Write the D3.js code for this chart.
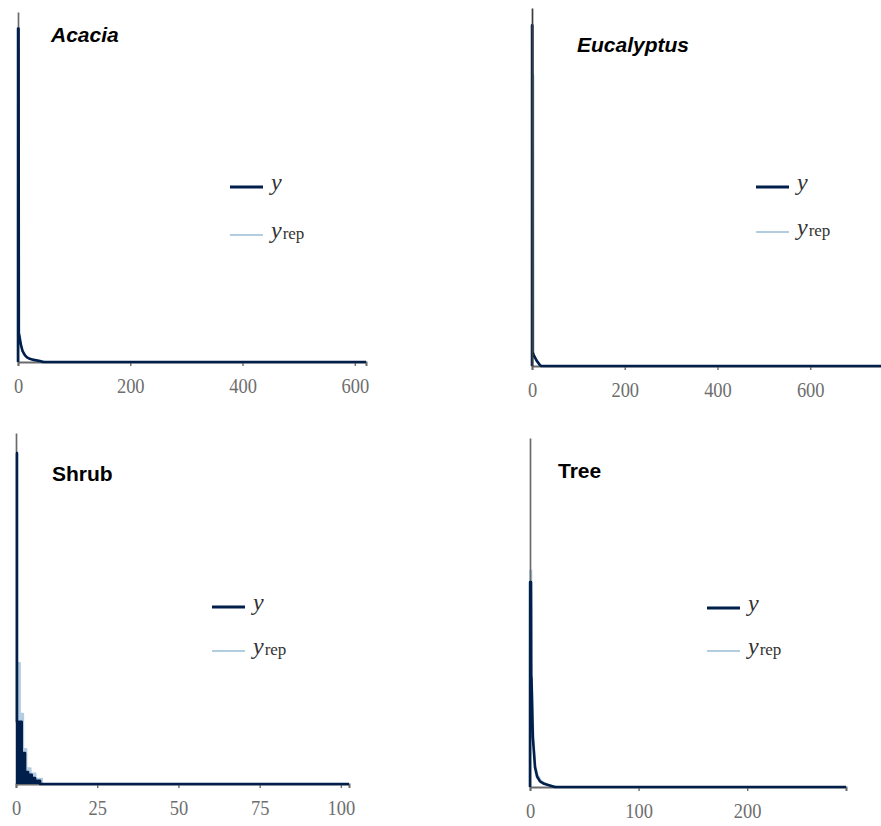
<!DOCTYPE html>
<html>
<head>
<meta charset="utf-8">
<script src="https://cdn.jsdelivr.net/npm/d3@7/dist/d3.min.js"></script>
<style>
  html, body { margin: 0; padding: 0; background: #fff; }
  svg { display: block; }
</style>
</head>
<body>
<script>
// ---- data: posterior predictive density overlays, heights as share of the panel's y range ----
const panelNames = ["Acacia", "Eucalyptus", "Shrub", "Tree"];
const xTicks = [[0, 200, 400, 600], [0, 200, 400, 600], [0, 25, 50, 75, 100], [0, 100, 200]];
const xMaxes = [620, 772, 102.5, 291];

// observed y densities ([value, density])
const acaciaY = [[0, 0], [0.1, 0.953], [1, 0.953], [1.5, 0.082], [3, 0.07], [5.3, 0.048], [8, 0.032], [12.5, 0.019],
  [16, 0.013], [21, 0.009], [28, 0.006], [39, 0.003], [45, 0], [620, 0]];
const eucalyptusY = [[0, 0], [0.1, 0.952], [0.8, 0.952], [1, 0.039], [4, 0.03], [10, 0.015], [17, 0.003], [20, 0], [772, 0]];
const shrubY = [[0, 0.943], [0.3, 0.177], [1.76, 0.088], [2.78, 0.034], [3.7, 0.026], [4.85, 0.017], [5.86, 0.009], [7.4, 0], [102.5, 0]];
const treeY = [[0, 0], [0.1, 0.587], [0.9, 0.587], [1.0, 0.5], [1.1, 0.32], [1.4, 0.31], [2.6, 0.143], [4.6, 0.057],
  [6.5, 0.03], [9.2, 0.016], [13, 0.009], [17.5, 0.005], [23, 0], [291, 0]];

// replicated yrep densities
const acaciaYrep = [[0, 0], [0.5, 0.9], [1.2, 0.9], [1.6, 0.09], [4, 0.055], [10, 0.022], [20, 0.01], [35, 0.004], [50, 0]];
const eucalyptusYrep = [[1.5, 0], [2, 0.813], [3, 0.813], [3.5, 0.03], [8, 0.02], [17, 0]];
const shrubYrep = [[0, 0.345], [1.2, 0.2], [2.2, 0.1], [3.2, 0.045], [4.5, 0.03], [6, 0.015], [8, 0]];
const treeYrep = [[0, 0], [0.2, 0.62], [1.2, 0.62], [1.5, 0.35], [2, 0.28], [3.2, 0.14], [5, 0.06], [7, 0.035],
  [10, 0.018], [15, 0.008], [20, 0.003], [26, 0]];

const yValues = [acaciaY, eucalyptusY, shrubY, treeY];
const yrepValues = [acaciaYrep, eucalyptusYrep, shrubYrep, treeYrep];

// ---- layout ----
const layout = [
  { x0: 18,  x1: 366, yTop: 12,  yBase: 362, title: [51, 42],  italic: true,  steps: false, axisTop: false, axisCol: "#6b6b6b", leg: [230, 187, 235] },
  { x0: 532, x1: 890, yTop: 8,   yBase: 366, title: [577, 52], italic: true,  steps: false, axisTop: true,  axisCol: "#3c3c3c", leg: [756, 187, 232] },
  { x0: 16,  x1: 349, yTop: 433, yBase: 784, title: [52, 481], italic: false, steps: true,  axisTop: false, axisCol: "#6b6b6b", leg: [212, 607, 651] },
  { x0: 530, x1: 846, yTop: 438, yBase: 787, title: [558, 478], italic: false, steps: false, axisTop: false, axisCol: "#6b6b6b", leg: [707, 608, 651] }
];

const colY = "#011f4b", colYrep = "#b3cde0", tickCol = "#6b6b6b", labelCol = "#6e6e6e";
const serif = "'Liberation Serif', 'Times New Roman', serif";

const svg = d3.select("body").append("svg").attr("width", 881).attr("height", 826);

panelNames.forEach((name, i) => {
  const L = layout[i];
  const g = svg.append("g");
  const x = d3.scaleLinear().domain([0, xMaxes[i]]).range([L.x0, L.x1]);
  const y = d3.scaleLinear().domain([0, 1]).range([L.yBase, L.yTop]);

  const curve = L.steps ? d3.curveStepAfter : d3.curveLinear;
  const line = d3.line().x(d => x(d[0])).y(d => y(d[1])).curve(curve);
  const area = d3.area().x(d => x(d[0])).y0(y(0)).y1(d => y(d[1])).curve(curve);

  // replicated densities
  if (L.steps) g.append("path").datum(yrepValues[i]).attr("d", area).attr("fill", colYrep);
  g.append("path").datum(yrepValues[i]).attr("d", line)
    .attr("fill", "none").attr("stroke", colYrep).attr("stroke-width", 2).attr("stroke-linejoin", "round");

  const drawYAxis = () => g.append("g").attr("transform", `translate(${L.x0},0)`)
    .call(d3.axisLeft(y).tickValues([]).tickSizeOuter(0))
    .call(s => s.select(".domain").attr("stroke", L.axisCol).attr("stroke-width", 1.7));

  if (!L.axisTop) drawYAxis();

  const xa = g.append("g").attr("transform", `translate(0,${L.yBase})`)
    .call(d3.axisBottom(x).tickValues(xTicks[i]).tickSizeOuter(0).tickSize(4).tickPadding(12)
      .tickFormat(d3.format("d")));
  xa.select(".domain").attr("stroke", tickCol).attr("stroke-width", 2);
  xa.selectAll(".tick line").attr("stroke", tickCol).attr("stroke-width", 1.4);
  xa.selectAll(".tick text")
    .attr("fill", labelCol)
    .attr("font-family", serif)
    .attr("font-size", 21)
    .attr("dy", "0.71em")
    .attr("transform", "scale(0.88,1)");

  // observed density
  if (L.steps) g.append("path").datum(yValues[i]).attr("d", area).attr("fill", colY);
  g.append("path").datum(yValues[i]).attr("d", line)
    .attr("fill", "none").attr("stroke", colY).attr("stroke-width", 2.6).attr("stroke-linejoin", "round");

  if (L.axisTop) drawYAxis();

  // panel title
  g.append("text")
    .attr("x", L.title[0]).attr("y", L.title[1])
    .attr("font-family", "'Liberation Sans', Arial, sans-serif")
    .attr("font-weight", "bold")
    .attr("font-style", L.italic ? "italic" : "normal")
    .attr("font-size", 21)
    .attr("fill", "#000")
    .text(name);

  // legend
  const [lx, ly1, ly2] = L.leg;
  const legend = g.append("g");
  legend.append("line").attr("x1", lx).attr("x2", lx + 33).attr("y1", ly1).attr("y2", ly1)
    .attr("stroke", colY).attr("stroke-width", 3.2);
  legend.append("line").attr("x1", lx).attr("x2", lx + 33).attr("y1", ly2).attr("y2", ly2)
    .attr("stroke", colYrep).attr("stroke-width", 2.2);
  legend.append("text").attr("x", lx + 41).attr("y", ly1 + 3)
    .attr("font-family", serif).attr("font-style", "italic").attr("font-size", 24).attr("fill", "#333")
    .text("y");
  const t2 = legend.append("text").attr("x", lx + 41).attr("y", ly2 + 3)
    .attr("font-family", serif).attr("font-size", 24).attr("fill", "#333");
  t2.append("tspan").attr("font-style", "italic").text("y");
  t2.append("tspan").attr("font-size", 17).attr("dx", 1).attr("dy", 1).text("rep");
});
</script>
</body>
</html>
